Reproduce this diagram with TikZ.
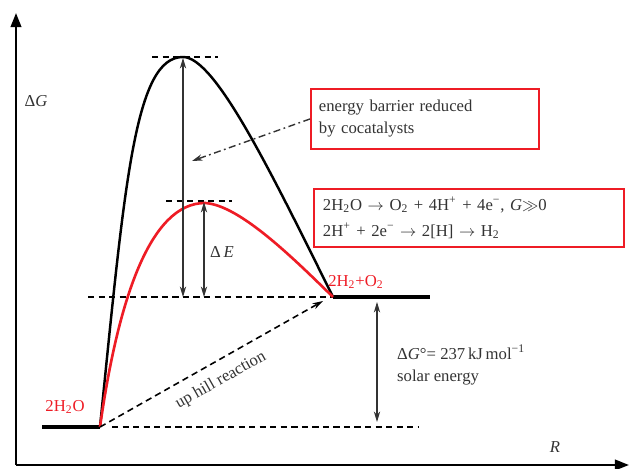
\documentclass[tikz,border=0pt]{standalone}
\usepackage{fontspec}
\setmainfont{Liberation Serif}
\usetikzlibrary{arrows.meta}
\definecolor{ink}{HTML}{333333}
\definecolor{hot}{HTML}{EE1C25}
\tikzset{
  level/.style={line width=2.3pt},
  guide/.style={line width=0.9pt,dash pattern=on 3.6pt off 2.4pt},
  span/.style={ink,line width=0.6pt,{Stealth[length=6pt,width=3.6pt]}-{Stealth[length=6pt,width=3.6pt]}},
  note/.style={draw=hot,line width=1.1pt,text=ink,align=left,anchor=north west,inner ysep=0pt},
  hotlabel/.style={text=hot,font=\fontsize{9.5}{11}\selectfont},
}
\begin{document}
\begin{tikzpicture}[x=0.02cm,y=-0.02cm,font=\fontsize{9.5}{12.5}\selectfont]
  \useasboundingbox (0,0) rectangle (630,469);
  % axes
  \coordinate (o) at (16,465);
  \draw[line width=1.2pt,-{Triangle[length=8pt,width=6pt]}] (o) -- (16,13);
  \draw[line width=1.2pt,-{Triangle[length=8pt,width=6pt]}] (o) -- (629,465);
  \node[text=ink] (dg) at (36,101) {Δ\textit{G}};
  \node[text=ink] (rr) at (555,447) {\textit{R}};
  % levels and guide lines
  \coordinate (react) at (100,427);
  \coordinate (prod) at (333,297);
  \coordinate (topB) at (183,57);
  \coordinate (topR) at (205,203);
  \draw[level] (42,427) -- (react);
  \draw[level] (prod) -- (430,297);
  \draw[guide] (112,427) -- (418,427);
  \draw[guide] (88,297) -- (prod);
  \draw[guide] (152,57) -- (218,57);
  \draw[guide] (166,201) -- (232,201);
  % barriers
  \draw[line width=1.4pt] (react) .. controls (125,180) and (135,57) .. (topB)
       .. controls (215,57) and (270,170) .. (prod);
  \draw[hot,line width=1.5pt] (react) .. controls (118,300) and (150,203) .. (topR)
       .. controls (240,205) and (295,260) .. (prod);
  \node[hotlabel] (h2o) at (65,407) {2H\textsubscript{2}O};
  \node[hotlabel] (h2o2) at (356,282) {2H\textsubscript{2}+O\textsubscript{2}};
  % energy spans
  \draw[span] (183,297) -- (183,58);
  \draw[span] (204,297) -- (204,202);
  \node[text=ink] (de) at (222,252) {Δ\,\textit{E}};
  \draw[span] (377,302) -- (377,422);
  \node[text=ink,anchor=west,align=left] (gibbs) at (391,365)
       {Δ\textit{G}°= 237\,kJ\,mol\textsuperscript{−1}\\solar energy};
  % notes
  \node[note,text width=4.24cm,minimum width=4.56cm,minimum height=1.2cm,inner xsep=0.16cm] (barrier) at (310,88)
       {energy barrier reduced\\by cocatalysts};
  \coordinate (aim) at (192,161);
  \draw[ink,line width=0.8pt,dash pattern=on 4pt off 2pt on 1pt off 2pt,-{Stealth[length=6pt,width=3.6pt]}] (barrier.west) -- (aim);
  \node[note,text width=5.84cm,minimum width=6.2cm,minimum height=1.16cm,inner xsep=0.18cm,
        font=\fontsize{9.5}{15}\selectfont] (steps) at (313,188)
       {2H\textsubscript{2}O $\rightarrow$ O\textsubscript{2} + 4H\textsuperscript{+} + 4e\textsuperscript{−}, \textit{G}$\gg$0\\
        2H\textsuperscript{+} + 2e\textsuperscript{−} $\rightarrow$ 2[H] $\rightarrow$ H\textsubscript{2}};
  % up hill
  \coordinate (uphill) at (323,301);
  \draw[guide,-{Stealth[length=6pt,width=3.6pt]}] (react) -- (uphill)
       node[pos=0.5,sloped,below,text=ink,inner sep=6pt] (uplabel) {up hill reaction};
\end{tikzpicture}
\end{document}
